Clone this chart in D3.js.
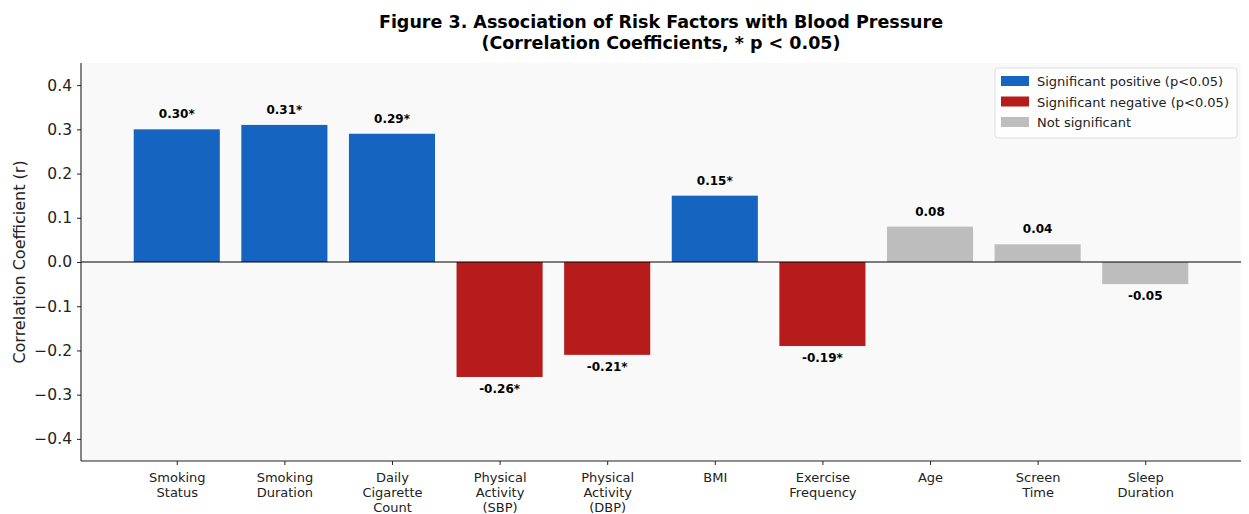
<!DOCTYPE html>
<html>
<head>
<meta charset="utf-8">
<script src="https://cdn.jsdelivr.net/npm/d3@7"></script>
<style>
  html, body { margin: 0; padding: 0; background: #ffffff; }
  svg { display: block; font-family: "DejaVu Sans", sans-serif; }
</style>
</head>
<body>
<svg id="chart" width="1249" height="514"></svg>
<script>
// Risk factors and their correlation with blood pressure
const categories = [
  ["Smoking", "Status"],
  ["Smoking", "Duration"],
  ["Daily", "Cigarette", "Count"],
  ["Physical", "Activity", "(SBP)"],
  ["Physical", "Activity", "(DBP)"],
  ["BMI"],
  ["Exercise", "Frequency"],
  ["Age"],
  ["Screen", "Time"],
  ["Sleep", "Duration"]
];
const values = [0.30, 0.31, 0.29, -0.26, -0.21, 0.15, -0.19, 0.08, 0.04, -0.05];
const significant = [true, true, true, true, true, true, true, false, false, false];
const yTicks = [-0.4, -0.3, -0.2, -0.1, 0.0, 0.1, 0.2, 0.3, 0.4];
const legendItems = [
  { label: "Significant positive (p<0.05)", color: "#1565C0" },
  { label: "Significant negative (p<0.05)", color: "#B71C1C" },
  { label: "Not significant", color: "#BDBDBD" }
];

const svg = d3.select("#chart");
const margin = { left: 81, right: 8, top: 63, bottom: 53 };
const W = 1249, H = 514;
const x0 = margin.left, x1 = W - margin.right;
const y0 = margin.top, y1 = H - margin.bottom;

const x = d3.scaleLinear().domain([-0.89, 9.89]).range([x0, x1]);
const y = d3.scaleLinear().domain([-0.45, 0.45]).range([y1, y0]);
const barW = 0.8;

function colorFor(i) {
  if (!significant[i]) return legendItems[2].color;
  return values[i] >= 0 ? legendItems[0].color : legendItems[1].color;
}

// Plot background
svg.append("rect")
  .attr("x", x0).attr("y", y0)
  .attr("width", x1 - x0).attr("height", y1 - y0)
  .attr("fill", "#f9f9f9");

// Bars
svg.append("g").selectAll("rect")
  .data(values)
  .join("rect")
  .attr("x", (d, i) => x(i - barW / 2))
  .attr("width", (d, i) => x(i + barW / 2) - x(i - barW / 2))
  .attr("y", d => y(Math.max(0, d)))
  .attr("height", d => Math.abs(y(d) - y(0)))
  .attr("fill", (d, i) => colorFor(i));

// Zero reference line
svg.append("line")
  .attr("x1", x0).attr("x2", x1)
  .attr("y1", y(0)).attr("y2", y(0))
  .attr("stroke", "#000").attr("stroke-width", 1);

// Value labels
svg.append("g").selectAll("text")
  .data(values)
  .join("text")
  .attr("x", (d, i) => x(i))
  .attr("y", d => d >= 0 ? y(d) - 11 : y(d) + 16)
  .attr("text-anchor", "middle")
  .attr("font-size", 12)
  .attr("font-weight", "bold")
  .attr("fill", "#000")
  .text((d, i) => d.toFixed(2) + (significant[i] ? "*" : ""));

// Y axis
const fmt = v => (v < 0 ? "\u2212" : "") + Math.abs(v).toFixed(1);
const yAxis = svg.append("g")
  .attr("transform", `translate(${x0},0)`)
  .call(d3.axisLeft(y).tickValues(yTicks).tickFormat(fmt).tickSize(4).tickPadding(5));
yAxis.select(".domain").attr("stroke", "#222").attr("stroke-width", 1.1).attr("d", `M0,${y0}V${y1}`);
yAxis.selectAll(".tick line").attr("stroke", "#222");
yAxis.selectAll(".tick text")
  .attr("font-size", 15.5).attr("fill", "#222")
  .attr("font-family", "DejaVu Sans, sans-serif");

// X axis
const xAxis = svg.append("g")
  .attr("transform", `translate(0,${y1})`)
  .call(d3.axisBottom(x).tickValues(d3.range(categories.length)).tickFormat("").tickSize(4));
xAxis.select(".domain").attr("stroke", "#222").attr("stroke-width", 1.1).attr("d", `M${x0},0H${x1}`);
xAxis.selectAll(".tick line").attr("stroke", "#222");
xAxis.selectAll(".tick").each(function (d) {
  const t = d3.select(this).append("text")
    .attr("text-anchor", "middle")
    .attr("font-size", 13)
    .attr("fill", "#222")
    .attr("font-family", "DejaVu Sans, sans-serif");
  categories[d].forEach((line, k) => {
    t.append("tspan").attr("x", 0).attr("y", 21 + k * 15).text(line);
  });
});

// Y axis title
svg.append("text")
  .attr("transform", `translate(25,${(y0 + y1) / 2}) rotate(-90)`)
  .attr("text-anchor", "middle")
  .attr("font-size", 16)
  .attr("fill", "#222")
  .text("Correlation Coefficient (r)");

// Title
const title = svg.append("text")
  .attr("text-anchor", "middle")
  .attr("font-size", 17.5)
  .attr("font-weight", "bold")
  .attr("fill", "#000");
title.append("tspan").attr("x", (x0 + x1) / 2).attr("y", 28).text("Figure 3. Association of Risk Factors with Blood Pressure");
title.append("tspan").attr("x", (x0 + x1) / 2).attr("y", 49).text("(Correlation Coefficients, * p < 0.05)");

// Legend
const lg = svg.append("g").attr("transform", "translate(995,68)");
lg.append("rect")
  .attr("width", 242).attr("height", 70)
  .attr("rx", 3)
  .attr("fill", "#fff").attr("fill-opacity", 0.85)
  .attr("stroke", "#ddd");
legendItems.forEach((item, k) => {
  lg.append("rect")
    .attr("x", 6).attr("y", 8 + k * 20.5)
    .attr("width", 28).attr("height", 10)
    .attr("fill", item.color);
  lg.append("text")
    .attr("x", 42).attr("y", 18 + k * 20.5)
    .attr("font-size", 13)
    .attr("fill", "#222")
    .text(item.label);
});
</script>
</body>
</html>
